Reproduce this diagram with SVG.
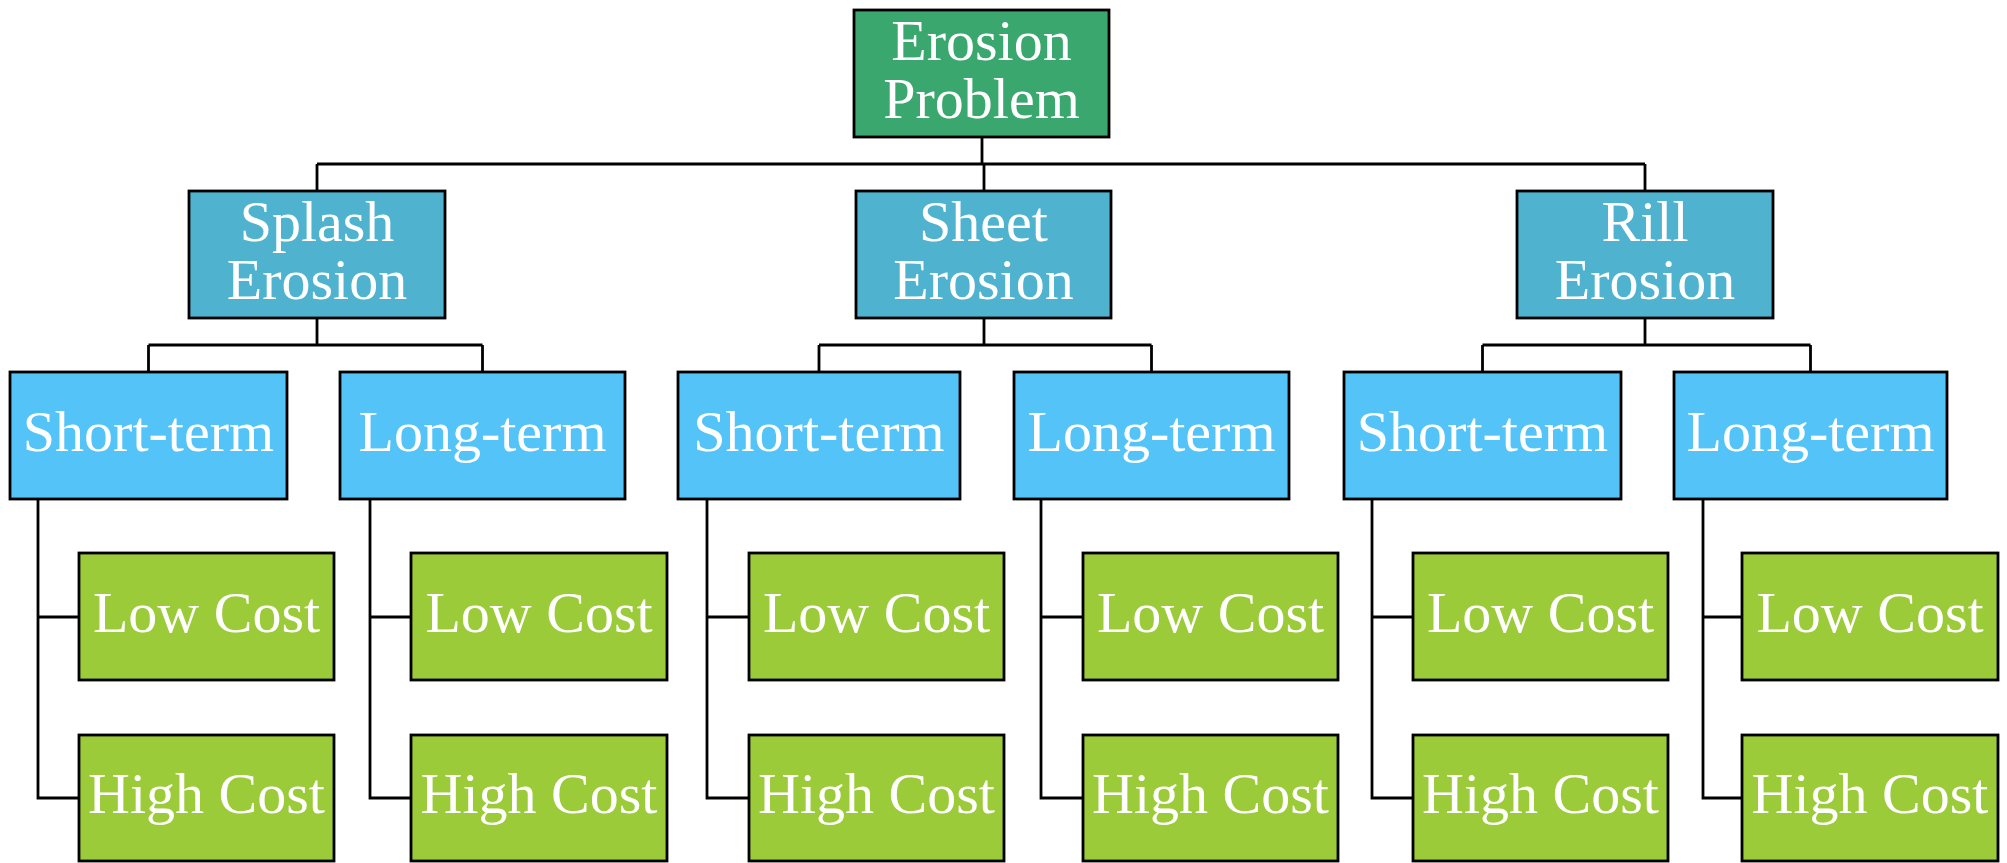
<svg xmlns="http://www.w3.org/2000/svg" width="2007" height="863" viewBox="0 0 2007 863">
<style>
rect{stroke:#000;stroke-width:2.8}
.r{fill:#3aa76e}.l2{fill:#4fb3d0}.l3{fill:#53c3f8}.g{fill:#9bcb38}
text{font-family:"Liberation Serif","Times New Roman",serif;font-size:58px;fill:#fff;text-anchor:middle}
#connectors path{fill:none;stroke:#000;stroke-width:2.8}
</style>
<rect width="2007" height="863" fill="#fff" style="stroke:none"/>
<g id="connectors">
<path d="M982 137V164M317 164H1645M317 164V191M984 164V191M1645 164V191"/>
<path d="M317 318V345M148.5 345H482.5M148.5 345V372M482.5 345V372"/>
<path d="M984 318V345M819 345H1151.5M819 345V372M1151.5 345V372"/>
<path d="M1645 318V345M1482.5 345H1810.5M1482.5 345V372M1810.5 345V372"/>
<path d="M38 499V798H79M38 617H79"/>
<path d="M370 499V798H411M370 617H411"/>
<path d="M707 499V798H749M707 617H749"/>
<path d="M1041 499V798H1083M1041 617H1083"/>
<path d="M1372 499V798H1413M1372 617H1413"/>
<path d="M1703 499V798H1742M1703 617H1742"/>
</g>
<g id="root"><rect class="r" x="854" y="10" width="255" height="127"/><text x="981.5" y="60">Erosion</text><text x="981.5" y="118">Problem</text></g>
<g id="splash"><rect class="l2" x="189" y="191" width="256" height="127"/><text x="317" y="241">Splash</text><text x="317" y="299">Erosion</text></g>
<g id="sheet"><rect class="l2" x="856" y="191" width="255" height="127"/><text x="983.5" y="241">Sheet</text><text x="983.5" y="299">Erosion</text></g>
<g id="rill"><rect class="l2" x="1517" y="191" width="256" height="127"/><text x="1645" y="241">Rill</text><text x="1645" y="299">Erosion</text></g>
<g id="splash-short"><rect class="l3" x="10" y="372" width="277" height="127"/><text x="148.5" y="451">Short-term</text></g>
<g id="splash-long"><rect class="l3" x="340" y="372" width="285" height="127"/><text x="482.5" y="451">Long-term</text></g>
<g id="sheet-short"><rect class="l3" x="678" y="372" width="282" height="127"/><text x="819" y="451">Short-term</text></g>
<g id="sheet-long"><rect class="l3" x="1014" y="372" width="275" height="127"/><text x="1151.5" y="451">Long-term</text></g>
<g id="rill-short"><rect class="l3" x="1344" y="372" width="277" height="127"/><text x="1482.5" y="451">Short-term</text></g>
<g id="rill-long"><rect class="l3" x="1674" y="372" width="273" height="127"/><text x="1810.5" y="451">Long-term</text></g>
<g id="splash-short-low"><rect class="g" x="79" y="553" width="255" height="127"/><text x="206.5" y="632">Low Cost</text></g>
<g id="splash-short-high"><rect class="g" x="79" y="735" width="255" height="126"/><text x="206.5" y="813">High Cost</text></g>
<g id="splash-long-low"><rect class="g" x="411" y="553" width="256" height="127"/><text x="539" y="632">Low Cost</text></g>
<g id="splash-long-high"><rect class="g" x="411" y="735" width="256" height="126"/><text x="539" y="813">High Cost</text></g>
<g id="sheet-short-low"><rect class="g" x="749" y="553" width="255" height="127"/><text x="876.5" y="632">Low Cost</text></g>
<g id="sheet-short-high"><rect class="g" x="749" y="735" width="255" height="126"/><text x="876.5" y="813">High Cost</text></g>
<g id="sheet-long-low"><rect class="g" x="1083" y="553" width="255" height="127"/><text x="1210.5" y="632">Low Cost</text></g>
<g id="sheet-long-high"><rect class="g" x="1083" y="735" width="255" height="126"/><text x="1210.5" y="813">High Cost</text></g>
<g id="rill-short-low"><rect class="g" x="1413" y="553" width="255" height="127"/><text x="1540.5" y="632">Low Cost</text></g>
<g id="rill-short-high"><rect class="g" x="1413" y="735" width="255" height="126"/><text x="1540.5" y="813">High Cost</text></g>
<g id="rill-long-low"><rect class="g" x="1742" y="553" width="256" height="127"/><text x="1870" y="632">Low Cost</text></g>
<g id="rill-long-high"><rect class="g" x="1742" y="735" width="256" height="126"/><text x="1870" y="813">High Cost</text></g>
</svg>
